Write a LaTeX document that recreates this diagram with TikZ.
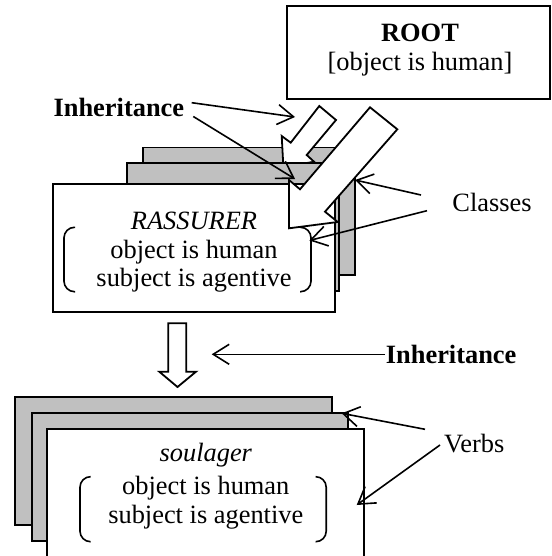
\documentclass[tikz,border=0pt]{standalone}
\usepackage{fontspec}
\setmainfont{Liberation Serif}
\usetikzlibrary{arrows.meta}
\definecolor{boxgray}{RGB}{192,192,192}
\begin{document}
\begin{tikzpicture}[x=1pt,y=-1pt,
  line width=1.8pt,
  whitebox/.style={draw=black, fill=white, line join=miter},
  graybox/.style={draw=black, fill=boxgray, line join=miter},
  blockarrow/.style={draw=black, fill=white, line join=miter},
  conn/.style={draw=black, line width=1.6pt, -{Straight Barb[length=16pt,width=20pt]}},
  paren/.style={draw=black, line width=1.6pt, rounded corners=10.5pt},
  txt/.style={inner sep=0pt, anchor=base, font=\fontsize{26.4}{30}\selectfont},
  ltxt/.style={txt, anchor=base west}
]
\useasboundingbox (0,0) rectangle (551,556);
\clip (0,0) rectangle (551,556);

% ROOT
\draw[whitebox] (287.3,6) rectangle (550,99);
\node[txt] (rootT) at (420,41.5) {\bfseries ROOT};
\node[txt] (rootA) at (420,71) {[object is human]};

% class stack (back), small block arrow, middle, front
\draw[graybox] (143.3,147.5) rectangle (355,275);
\draw[blockarrow] (319.3,106) -- (336,120) -- (306.7,155) -- (314,161.7)
  -- (283.4,167.4) -- (281.7,136) -- (290.7,142.7) -- cycle;
\draw[graybox] (127.3,163.3) rectangle (339,290.7);
\draw[whitebox] (53.3,184) rectangle (335,311.7);

\node[txt] (rass) at (194,229.3) {\itshape RASSURER};
\node[txt] (rassA) at (194,258.3) {object is human};
\node[txt] (rassB) at (194,286.7) {subject is agentive};
\draw[paren] (75,227.3) -- (64,227.3) -- (64,291.7) -- (75,291.7);
\draw[paren] (300,227.3) -- (311,227.3) -- (311,291.7) -- (300,291.7);

% big block arrow
\draw[blockarrow] (370,107.3) -- (397.3,129.3) -- (325,211.7) -- (337.7,222)
  -- (289,228.3) -- (289,180) -- (300,189.3) -- cycle;

% upper Inheritance
\node[ltxt] (inhA) at (52.7,117) {\bfseries Inheritance};
\coordinate (inhA1) at (191.7,102.7);
\coordinate (inhA2) at (193.3,116.5);
\coordinate (tipA1) at (295,117);
\coordinate (tipA2) at (295,179);
\draw[conn] (inhA1) -- (tipA1);
\draw[conn] (inhA2) -- (tipA2);

% Classes
\node[ltxt] (classes) at (451.5,211.7) {Classes};
\coordinate (cls1) at (421,195);
\coordinate (cls2) at (427,210.7);
\coordinate (tipC1) at (355,180);
\coordinate (tipC2) at (309.3,240.5);
\draw[conn] (cls1) -- (tipC1);
\draw[conn] (cls2) -- (tipC2);

% lower block arrow
\draw[blockarrow] (168.3,323.3) -- (186.3,323.3) -- (186.3,371.7) -- (196,371.7)
  -- (177.5,387) -- (159.3,371.7) -- (168.3,371.7) -- cycle;

% lower Inheritance
\node[ltxt] (inhB) at (385,363) {\bfseries Inheritance};
\coordinate (tipB) at (211.7,354.3);
\draw[conn] (inhB.west |- tipB) -- (tipB);

% verbs stack
\draw[graybox] (15,396.7) rectangle (332.3,525);
\draw[graybox] (31.7,412.7) rectangle (348.3,541);
\draw[whitebox] (47.3,429) rectangle (364.3,570);

\node[txt] (soul) at (205.8,461) {\itshape soulager};
\node[txt] (soulA) at (205.8,494.3) {object is human};
\node[txt] (soulB) at (205.8,523.3) {subject is agentive};
\draw[paren] (90.7,476.7) -- (80,476.7) -- (80,541.7) -- (90.7,541.7);
\draw[paren] (315.5,476.7) -- (326.2,476.7) -- (326.2,541.7) -- (315.5,541.7);

% Verbs
\node[ltxt] (verbs) at (443.3,452) {Verbs};
\coordinate (vb1) at (425,429.3);
\coordinate (vb2) at (440,445);
\coordinate (tipV1) at (341.7,413.3);
\coordinate (tipV2) at (356.7,505);
\draw[conn] (vb1) -- (tipV1);
\draw[conn] (vb2) -- (tipV2);
\end{tikzpicture}
\end{document}
